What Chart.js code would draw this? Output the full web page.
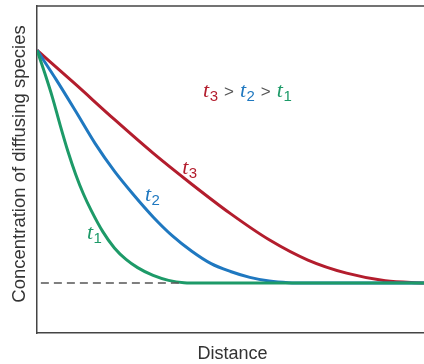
<!DOCTYPE html>
<html lang="en">
<head>
<meta charset="UTF-8">
<title>Concentration profiles of a diffusing species</title>
<script src="https://cdn.jsdelivr.net/npm/chart.js"></script>
<style>
  html, body { margin: 0; padding: 0; background: #fff; }
</style>
</head>
<body>
<canvas id="chart" width="424" height="364"></canvas>
<script>
// Profiles (distance and concentration in arbitrary units 0-100)
const t1Distance = [0, 2, 4, 6, 8, 10, 12, 14, 17, 20, 23, 26, 30, 34, 38, 42, 100];
const t1Conc     = [86.5, 79.5, 72, 63.5, 55.5, 48.5, 42.5, 37.5, 31, 26, 22.5, 20, 17.6, 16.1, 15.4, 15.3, 15.3];

const t2Distance = [0, 5, 10, 15, 20, 25, 30, 35, 40, 45, 50, 55, 60, 65, 70, 100];
const t2Conc     = [86.5, 77.4, 67.8, 58, 49.5, 42.2, 35.5, 29.7, 25, 21.2, 18.8, 17, 15.9, 15.4, 15.3, 15.3];

const t3Distance = [0, 10, 20, 30, 40, 50, 60, 70, 80, 90, 100];
const t3Conc     = [86.5, 76, 65.3, 55, 45.5, 36.5, 28.5, 22.3, 18.3, 16, 15.3];

// initial concentration, dashed
const c0Distance = [1, 37.7];
const c0Conc     = [15.3, 15.3];

const red = '#b31d2d', blue = '#1f78c0', green = '#1d9a68';

function pts(xs, ys) {
    return xs.map((x, i) => ({ x: x, y: ys[i] }));
}

// top frame line + text labels
const decorations = {
    id: 'decorations',
    afterDatasetsDraw(chart) {
        const ctx = chart.ctx;
        const area = chart.chartArea;
        const xs = chart.scales.x, ys = chart.scales.y;

        ctx.save();
        ctx.strokeStyle = '#444';
        ctx.lineWidth = 1.5;
        ctx.beginPath();
        ctx.moveTo(area.left, area.top);
        ctx.lineTo(area.right, area.top);
        ctx.stroke();

        // t with subscript, returns end x
        function tSub(x, y, sub, color) {
            ctx.fillStyle = color;
            ctx.textBaseline = 'alphabetic';
            ctx.textAlign = 'left';
            ctx.font = 'italic 22px "Liberation Serif"';
            ctx.fillText('t', x, y);
            x += ctx.measureText('t').width + 0.5;
            ctx.font = '15px "Liberation Sans"';
            ctx.fillText(sub, x, y + 4);
            return x + ctx.measureText(sub).width;
        }
        function gt(x, y) {
            ctx.fillStyle = '#555';
            ctx.font = '17px "Liberation Sans"';
            x += 6;
            ctx.fillText('>', x, y);
            return x + ctx.measureText('>').width + 6;
        }

        let x = xs.getPixelForValue(42.9), y = ys.getPixelForValue(72.2);
        x = tSub(x, y, '3', red);
        x = gt(x, y);
        x = tSub(x, y, '2', blue);
        x = gt(x, y);
        tSub(x, y, '1', green);

        tSub(xs.getPixelForValue(37.5), ys.getPixelForValue(48.6), '3', red);
        tSub(xs.getPixelForValue(27.9), ys.getPixelForValue(40.4), '2', blue);
        tSub(xs.getPixelForValue(12.9), ys.getPixelForValue(28.7), '1', green);

        // axis titles
        ctx.fillStyle = '#333';
        ctx.font = '18px "Liberation Sans"';
        ctx.textAlign = 'center';
        ctx.fillText('Distance', (area.left + area.right) / 2 + 2, 359);
        ctx.font = '18.5px "Liberation Sans"';
        ctx.translate(25, 164);
        ctx.rotate(-Math.PI / 2);
        ctx.fillText('Concentration of diffusing species', 0, 0);
        ctx.restore();
    }
};

new Chart(document.getElementById('chart'), {
    type: 'scatter',
    data: {
        datasets: [
            { data: pts(c0Distance, c0Conc), borderColor: '#555', borderWidth: 1.5, borderDash: [8, 5] },
            { data: pts(t1Distance, t1Conc), borderColor: green, borderWidth: 3 },
            { data: pts(t2Distance, t2Conc), borderColor: blue, borderWidth: 3 },
            { data: pts(t3Distance, t3Conc), borderColor: red, borderWidth: 3 }
        ]
    },
    options: {
        responsive: false,
        animation: false,
        showLine: true,
        layout: { padding: { left: 37, right: 0, top: 6, bottom: 31 } },
        elements: {
            point: { radius: 0, hoverRadius: 0 },
            line: { cubicInterpolationMode: 'monotone', fill: false }
        },
        plugins: {
            legend: { display: false },
            tooltip: { enabled: false }
        },
        scales: {
            x: {
                min: 0, max: 100,
                ticks: { display: false },
                grid: { display: false },
                border: { color: '#444', width: 1.5 },
                afterFit(scale) { scale.height = 0; }
            },
            y: {
                min: 0, max: 100,
                ticks: { display: false },
                grid: { display: false },
                border: { color: '#444', width: 1.5 },
                afterFit(scale) { scale.width = 0; }
            }
        }
    },
    plugins: [decorations]
});
</script>
</body>
</html>
